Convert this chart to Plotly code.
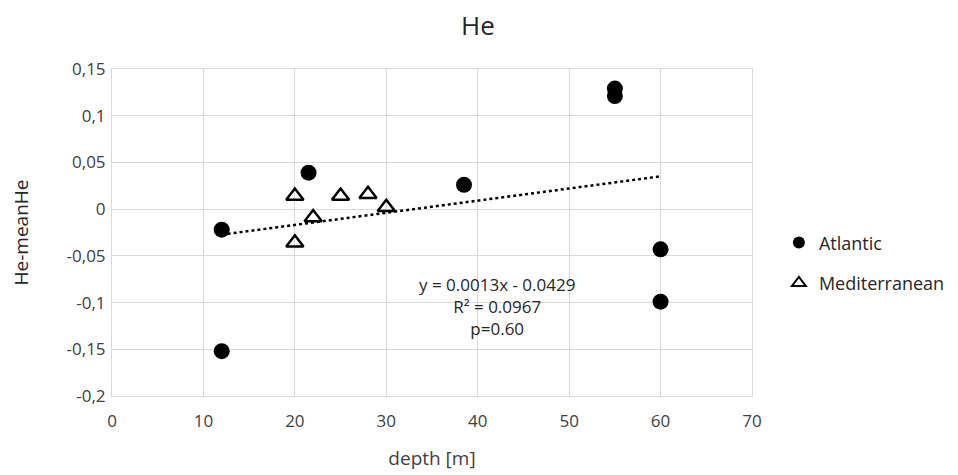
import plotly.graph_objects as go

atl_x = [12, 12, 21.5, 38.5, 55, 55, 60, 60]
atl_y = [-0.022, -0.152, 0.039, 0.026, 0.129, 0.121, -0.043, -0.099]
med_x = [20, 20, 22, 25, 28, 30]
med_y = [0.014, -0.036, -0.009, 0.014, 0.016, 0.002]
slope = 0.0013
intercept = -0.0429
trend_x = [12, 60]
y_ticks = [0.15, 0.1, 0.05, 0, -0.05, -0.1, -0.15, -0.2]
y_tick_labels = ["0,15", "0,1", "0,05", "0", "-0,05", "-0,1", "-0,15", "-0,2"]
x_ticks = [0, 10, 20, 30, 40, 50, 60, 70]
eq_text = "y = 0.0013x - 0.0429<br>R² = 0.0967<br>p=0.60"

FONT = "Open Sans"
fig = go.Figure()
fig.add_trace(go.Scatter(
    x=trend_x, y=[slope * v + intercept for v in trend_x], mode="lines",
    line=dict(color="black", width=2.5, dash="dot"), showlegend=False, hoverinfo="skip"))
fig.add_trace(go.Scatter(
    x=atl_x, y=atl_y, mode="markers", name="Atlantic", legendgroup="a",
    marker=dict(symbol="circle", size=16, color="black")))
fig.add_trace(go.Scatter(
    x=med_x, y=med_y, mode="markers", name="Mediterranean", legendgroup="m",
    marker=dict(symbol="triangle-up-open", size=15, color="black", line=dict(width=2.5, color="black"))))

fig.add_annotation(x=42.06, y=-0.104, xref="x", yref="y", text=eq_text, showarrow=False,
                   font=dict(family=FONT, size=17, color="#262626"), align="center")

fig.update_layout(
    width=958, height=475,
    margin=dict(l=104, r=214, t=61, b=87),
    paper_bgcolor="white", plot_bgcolor="white",
    title=dict(text="He", x=0.4906, xanchor="center", y=0.962, yanchor="middle",
               font=dict(family=FONT, size=26, color="#262626")),
    font=dict(family=FONT, color="#404040"),
    legend=dict(x=1.042, y=0.407, xanchor="left", yanchor="middle",
                font=dict(family=FONT, size=18, color="#262626"), tracegroupgap=14,
                itemsizing="constant", itemwidth=30),
    showlegend=True,
)
fig.update_xaxes(range=[0, 70], tickvals=x_ticks, ticktext=[str(v) for v in x_ticks],
                 showgrid=True, gridcolor="#d9d9d9", gridwidth=1,
                 showline=True, linecolor="#d9d9d9", linewidth=1, mirror=True,
                 zeroline=False, ticks="", ticklabelstandoff=10, automargin=False,
                 tickfont=dict(size=17, color="#404040"),
                 title=dict(text="depth [m]", font=dict(size=19, color="#404040"), standoff=20))
fig.update_yaxes(range=[-0.2, 0.15], tickvals=y_ticks, ticktext=y_tick_labels,
                 showgrid=True, gridcolor="#d9d9d9", gridwidth=1,
                 showline=True, linecolor="#d9d9d9", linewidth=1, mirror=True,
                 zeroline=False, ticks="", ticklabelstandoff=2, automargin=False,
                 tickfont=dict(size=17, color="#404040"),
                 title=dict(text="He-meanHe", font=dict(size=19, color="#262626"), standoff=35))

fig.write_html("out.html")
